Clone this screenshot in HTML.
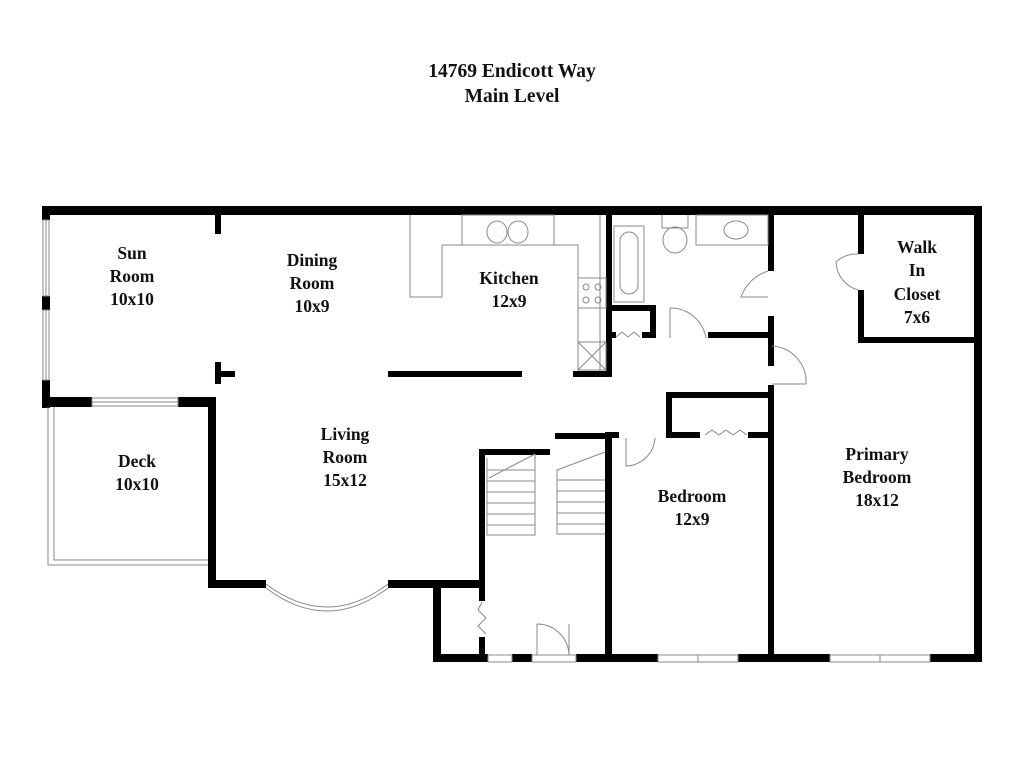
<!DOCTYPE html>
<html><head><meta charset="utf-8"><style>
html,body{margin:0;padding:0;background:#fff;width:1024px;height:768px;overflow:hidden}
svg{display:block}
text{font-family:"Liberation Serif",serif;font-weight:bold;fill:#111;text-anchor:middle}
</style></head><body>
<svg width="1024" height="768" viewBox="0 0 1024 768">
<text x="512" y="77" font-size="19.5">14769 Endicott Way</text>
<text x="512" y="102" font-size="19.5">Main Level</text>

<g fill="#000">
<rect x="42" y="206" width="940" height="9"/>
<rect x="974" y="206" width="8" height="456"/>
<rect x="42" y="206" width="8" height="14"/>
<rect x="42" y="296" width="8" height="14"/>
<rect x="42" y="380" width="8" height="28"/>
<rect x="42" y="397" width="50" height="10"/>
<rect x="178" y="397" width="38" height="10"/>
<rect x="208" y="397" width="8" height="191"/>
<rect x="208" y="580" width="58" height="8"/>
<rect x="388" y="580" width="92" height="8"/>
<rect x="433" y="580" width="8" height="82"/>
<rect x="433" y="654" width="55" height="8"/>
<rect x="512" y="654" width="20" height="8"/>
<rect x="576" y="654" width="82" height="8"/>
<rect x="738" y="654" width="92" height="8"/>
<rect x="930" y="654" width="52" height="8"/>
<rect x="215" y="214" width="6" height="20"/>
<rect x="215" y="362" width="6" height="22"/>
<rect x="215" y="371" width="20" height="6"/>
<rect x="388" y="371" width="134" height="6"/>
<rect x="573" y="371" width="39" height="6"/>
<rect x="606" y="214" width="6" height="163"/>
<rect x="606" y="305" width="50" height="6"/>
<rect x="650" y="305" width="6" height="33"/>
<rect x="606" y="332" width="10" height="6"/>
<rect x="642" y="332" width="14" height="6"/>
<rect x="708" y="332" width="64" height="6"/>
<rect x="768" y="214" width="6" height="57"/>
<rect x="768" y="316" width="6" height="50"/>
<rect x="858" y="214" width="6" height="40"/>
<rect x="858" y="290" width="6" height="53"/>
<rect x="858" y="337" width="124" height="6"/>
<rect x="666" y="392" width="108" height="6"/>
<rect x="666" y="392" width="6" height="46"/>
<rect x="666" y="432" width="34" height="6"/>
<rect x="748" y="432" width="26" height="6"/>
<rect x="768" y="385" width="6" height="277"/>
<rect x="605" y="432" width="14" height="6"/>
<rect x="605" y="432" width="7" height="230"/>
<rect x="479" y="449" width="71" height="6"/>
<rect x="479" y="449" width="6" height="152"/>
<rect x="479" y="637" width="6" height="25"/>
<rect x="555" y="433" width="51" height="6"/>
</g>

<g fill="none" stroke="#888" stroke-width="1">
<rect x="43" y="220" width="6" height="76"/><line x1="46" y1="220" x2="46" y2="296"/>
<rect x="43" y="310" width="6" height="70"/><line x1="46" y1="310" x2="46" y2="380"/>
<rect x="92" y="398" width="86" height="8"/><line x1="92" y1="402" x2="178" y2="402"/>
<path d="M48 407 V565 H208 M54 407 V560 H208"/>
<path d="M266 584 Q327 630 388 584"/><path d="M266 588 Q327 634 388 588"/>
<rect x="488" y="655" width="24" height="7"/>
<rect x="658" y="655" width="80" height="7"/><line x1="698" y1="655" x2="698" y2="662"/>
<rect x="830" y="655" width="100" height="7"/><line x1="880" y1="655" x2="880" y2="662"/>
<path d="M537 655 V624 M537 624 A32 32 0 0 1 569 655 M569 624 V655"/>
<rect x="532" y="655" width="44" height="7"/>
<path d="M410 215 V297 H442 V245 H578 V371 M600 215 V371"/>
<rect x="462" y="215" width="92" height="30"/>
<ellipse cx="497" cy="232" rx="10" ry="11"/><ellipse cx="518" cy="232" rx="10" ry="11"/>
<rect x="578" y="278" width="28" height="30"/>
<circle cx="586" cy="287" r="3"/><circle cx="598" cy="287" r="3"/><circle cx="586" cy="300" r="3"/><circle cx="598" cy="300" r="3"/>
<rect x="578" y="342" width="28" height="28"/><path d="M578 342 L606 370 M606 342 L578 370"/>
<rect x="614" y="226" width="30" height="76"/>
<rect x="620" y="232" width="18" height="62" rx="9"/>
<path d="M662 215 V228 H688 V215"/><ellipse cx="675" cy="240" rx="12" ry="13"/>
<rect x="696" y="215" width="72" height="30"/><ellipse cx="736" cy="230" rx="12" ry="9"/>
<path d="M670 308 V338 M670 308 A36 36 0 0 1 706 338"/>
<path d="M768 271 A42 42 0 0 0 741 297 H768"/>
<path d="M772 346 A36 36 0 0 1 806 384 H772"/>
<path d="M858 254 A30 30 0 0 0 836 262 A30 30 0 0 0 858 290"/>
<path d="M655 438 A30 30 0 0 1 626 466 V438"/>
<path d="M616 337 L622 332 L628 337 L634 332 L640 337"/>
<path d="M705 435 L712 430 L719 435 L726 430 L733 435 L740 430 L747 435"/>
<path d="M482 602 L478 610 L486 618 L478 626 L486 634"/>
<path d="M487 458 V535 H535 V454 M535 454 L489 478"/>
<path d="M487 470 H535 M487 481 H535 M487 492 H535 M487 503 H535 M487 514 H535 M487 525 H535"/>
<path d="M557 470 V534 H605 M557 470 L605 452"/>
<path d="M557 480 H605 M557 491 H605 M557 502 H605 M557 513 H605 M557 524 H605"/>
</g>

<g font-size="17.5">
<text x="132" y="259">Sun</text><text x="132" y="282">Room</text><text x="132" y="305">10x10</text>
<text x="312" y="266">Dining</text><text x="312" y="289">Room</text><text x="312" y="312">10x9</text>
<text x="509" y="284">Kitchen</text><text x="509" y="307">12x9</text>
<text x="917" y="253">Walk</text><text x="917" y="276">In</text><text x="917" y="300">Closet</text><text x="917" y="323">7x6</text>
<text x="137" y="467">Deck</text><text x="137" y="490">10x10</text>
<text x="345" y="440">Living</text><text x="345" y="463">Room</text><text x="345" y="486">15x12</text>
<text x="692" y="502">Bedroom</text><text x="692" y="525">12x9</text>
<text x="877" y="460">Primary</text><text x="877" y="483">Bedroom</text><text x="877" y="506">18x12</text>
</g>
</svg>
</body></html>
